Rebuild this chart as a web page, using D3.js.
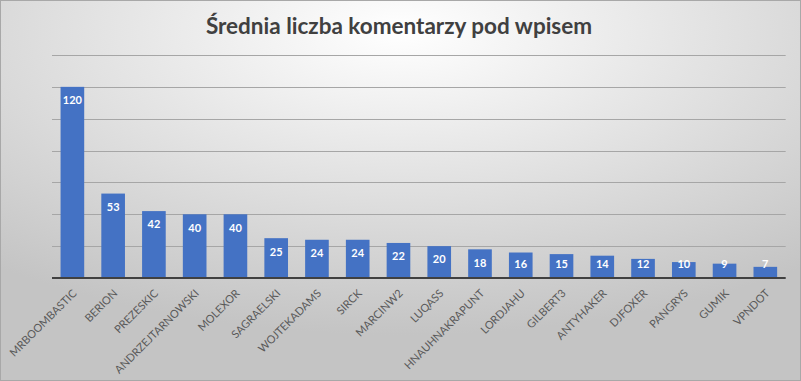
<!DOCTYPE html>
<html><head><meta charset="utf-8">
<script src="https://cdn.jsdelivr.net/npm/d3@7"></script>
<style>html,body{margin:0;padding:0;background:#fff;}svg{display:block;}</style>
</head><body>
<script>
const categories = ["MRBOOMBASTIC","BERION","PREZESKIC","ANDRZEJTARNOWSKI","MOLEXOR","SAGRAELSKI","WOJTEKADAMS","SIRCK","MARCINW2","LUQASS","HNAUHNAKRAPUNT","LORDJAHU","GILBERT3","ANTYHAKER","DJFOXER","PANGRYS","GUMIK","VPNDOT"];
const values = [120,53,42,40,40,25,24,24,22,20,18,16,15,14,12,10,9,7];
const yTicks = [0,20,40,60,80,100,120,140];
const title = "Średnia liczba komentarzy pod wpisem";

const W = 801, H = 381;
const svg = d3.select("body").append("svg").attr("width", W).attr("height", H);
const defs = svg.append("defs");
const g = defs.append("radialGradient").attr("id","bg").attr("cx","50%").attr("cy","8%").attr("r","80%")
  .attr("gradientUnits","objectBoundingBox");
g.append("stop").attr("offset","0%").attr("stop-color","#ffffff");
g.append("stop").attr("offset","100%").attr("stop-color","#c4c4c4");
svg.append("rect").attr("x",0.5).attr("y",0.5).attr("width",W-1).attr("height",H-1)
  .attr("fill","url(#bg)").attr("stroke","#a8a8a8").attr("stroke-width",1);

const x = d3.scaleBand().domain(categories).range([52, 785.7]).paddingInner(0.42).paddingOuter(0.21);
const y = d3.scaleLinear().domain([0,140]).range([278, 55]);

// gridlines
svg.append("g").selectAll("line").data(yTicks.filter(d=>d>0)).join("line")
  .attr("x1",52).attr("x2",785.7).attr("y1",d=>Math.round(y(d))+0.5).attr("y2",d=>Math.round(y(d))+0.5)
  .attr("stroke","#a6a6a6").attr("stroke-width",1);

// bars
svg.append("g").selectAll("rect").data(values).join("rect")
  .attr("x",(d,i)=>x(categories[i])).attr("width",x.bandwidth())
  .attr("y",d=>y(d)).attr("height",d=>y(0)-y(d)).attr("fill","#4472c4");

// baseline
svg.append("line").attr("x1",52).attr("x2",785.7).attr("y1",y(0)).attr("y2",y(0))
  .attr("stroke","#404040").attr("stroke-width",2);

// data labels
svg.append("g").selectAll("text").data(values).join("text")
  .attr("x",(d,i)=>x(categories[i])+x.bandwidth()/2)
  .attr("y",d=>Math.min(y(d)+13.5, y(0)-13.5))
  .attr("dy","0.35em")
  .attr("text-anchor","middle").attr("fill","#ffffff")
  .attr("font-family","Lato, 'Open Sans', sans-serif").attr("font-size","11px").attr("font-weight","bold")
  .text(d=>d);

// category labels
svg.append("g").selectAll("text").data(categories).join("text")
  .attr("transform",d=>`translate(${x(d)+x.bandwidth()/2+5},${y(0)+16}) rotate(-45)`)
  .attr("text-anchor","end").attr("fill","#595959")
  .attr("font-family","Lato, 'Open Sans', sans-serif").attr("font-size","11px")
  .text(d=>d);

// title
svg.append("text").attr("x",399).attr("y",34).attr("text-anchor","middle")
  .attr("fill","#404040").attr("font-family","Lato, 'Open Sans', sans-serif")
  .attr("font-size","22.5px").attr("font-weight","bold").text(title);
</script>
</body></html>
